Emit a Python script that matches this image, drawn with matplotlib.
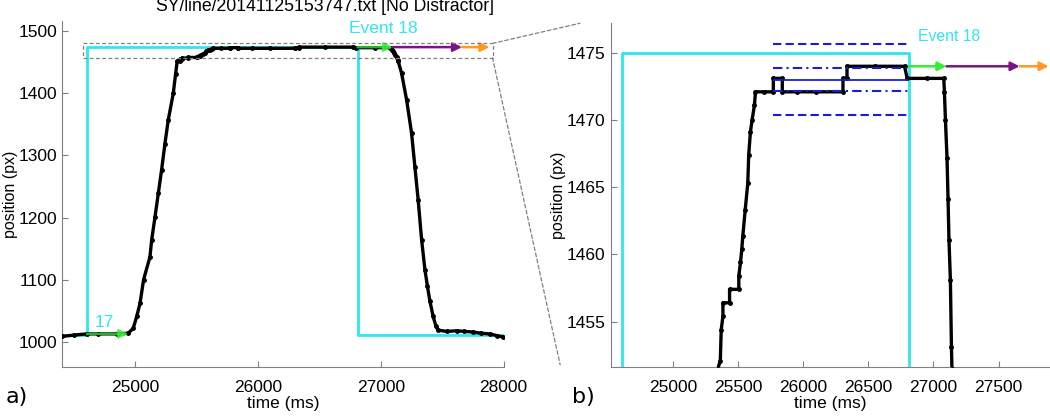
import matplotlib
matplotlib.use("Agg")
import matplotlib.pyplot as plt
from matplotlib.patches import Rectangle, ConnectionPatch

plt.rcParams['font.family'] = ['Liberation Sans', 'DejaVu Sans']

# --- data ---
title = "SY/line/20141125153747.txt [No Distractor]"

# cursor trajectory (time in ms, position in px)
traj_t = [24410, 24500, 24607, 24700, 24850, 24945, 24986, 25014, 25041, 25070,
          25122, 25136, 25163, 25190, 25217, 25244, 25271, 25312, 25330, 25344,
          25363, 25370, 25383, 25383, 25434, 25434, 25505, 25505, 25518, 25528,
          25536, 25554, 25574, 25581, 25594, 25607, 25625, 25633, 25700, 25770,
          25770, 25839, 25839, 25950, 26100, 26305, 26305, 26336, 26336, 26550,
          26778, 26798, 26950, 27079, 27084, 27092, 27104, 27112, 27119, 27130,
          27138, 27142, 27170, 27211, 27251, 27278, 27305, 27333, 27360, 27380,
          27400, 27427, 27450, 27468, 27536, 27617, 27680, 27752, 27820, 27888,
          27950, 27997]
traj_p = [1009, 1011, 1013, 1013, 1013, 1014, 1022, 1041, 1062, 1100,
          1137, 1164, 1201, 1239, 1277, 1319, 1357, 1400, 1430, 1451.5,
          1452.1, 1454.4, 1455.4, 1456.4, 1456.4, 1457.4, 1457.4, 1458.4, 1459.4, 1460.4,
          1461.4, 1463.3, 1465.3, 1467.4, 1469.1, 1470.0, 1471.1, 1472.1, 1472.1, 1472.1,
          1473.1, 1473.1, 1472.1, 1472.1, 1472.1, 1472.1, 1473.1, 1473.1, 1474.0, 1474.0,
          1474.0, 1473.1, 1473.1, 1473.1, 1472.1, 1470.0, 1467.2, 1464.1, 1461.1, 1458.1,
          1453.1, 1451.5, 1432, 1389, 1336, 1282, 1228, 1164, 1116, 1090,
          1066, 1041, 1025, 1019, 1017, 1018, 1017, 1016, 1014, 1013,
          1010, 1008]

# target signal (cyan step)
target_t = [24410, 24610, 24610, 26812, 26812, 28000]
target_p = [1011, 1011, 1475, 1475, 1011, 1011]

# event arrows: (start, tip, level)
arrow17 = [24610, 24945, 1013]
green18 = [26812, 27100, 1474]
purple18 = [27100, 27662, 1474]
orange18 = [27662, 27885, 1474]

# mean / spread lines of the hold phase
hold_span = [25770, 26805]
hold_mean = 1473.0
hold_sd1 = [1472.15, 1473.86]
hold_sd3 = [1470.34, 1475.67]

# zoom box drawn in panel a
zoom_box = [24578, 27910, 1457, 1480]

left_xticks = [25000, 26000, 27000, 28000]
left_yticks = [1000, 1100, 1200, 1300, 1400, 1500]
right_xticks = [25000, 25500, 26000, 26500, 27000, 27500]
right_yticks = [1455, 1460, 1465, 1470, 1475]

CYAN = "#30e6ef"
GREEN = "#33ee33"
PURPLE = "#7a1488"
ORANGE = "#ff9a1f"
BLUE = "#1c1cd8"
GRAY = "#808080"


def style_axes(ax):
    for side in ("top", "right"):
        ax.spines[side].set_visible(False)
    for side in ("left", "bottom"):
        ax.spines[side].set_color(GRAY)
    ax.tick_params(direction="in", length=4, color=GRAY, labelsize=12.5)
    ax.tick_params(axis="x", pad=9)
    ax.tick_params(axis="y", pad=4)
    ax.set_xlabel("time (ms)", fontsize=12.5, labelpad=1)
    ax.set_ylabel("position (px)", fontsize=11.5, labelpad=0)


def arrow(ax, spec, color, alpha=1.0):
    start, tip, level = spec
    ax.annotate("", xy=(tip, level), xytext=(start, level),
                arrowprops=dict(arrowstyle="-|>", color=color, lw=1.8,
                                mutation_scale=13, shrinkA=0, shrinkB=0,
                                alpha=alpha),
                annotation_clip=False, zorder=5)


fig = plt.figure(figsize=(10.5, 4.18), dpi=100)
ax1 = fig.add_axes([0.0595, 0.1213, 0.4201, 0.8292])
ax2 = fig.add_axes([0.5816, 0.1213, 0.4184, 0.8230])

# --- panel a ---
ax1.plot(target_t, target_p, color=CYAN, lw=2, zorder=2)
ax1.plot(traj_t, traj_p, color="black", lw=2.4, marker=".", markersize=5, zorder=3)
arrow(ax1, arrow17, GREEN, alpha=0.75)
arrow(ax1, green18, GREEN, alpha=0.75)
arrow(ax1, purple18, PURPLE)
arrow(ax1, orange18, ORANGE)
ax1.text(24674, 1024, "17", color=CYAN, fontsize=12.5, va="baseline")
ax1.text(26741, 1497, "Event 18", color=CYAN, fontsize=12.5, va="baseline")
ax1.add_patch(Rectangle((zoom_box[0], zoom_box[2]), zoom_box[1] - zoom_box[0],
                        zoom_box[3] - zoom_box[2], fill=False, ec=GRAY,
                        lw=0.9, ls=(0, (3, 2)), zorder=6))
ax1.set_xlim(24410, 28000)
ax1.set_ylim(959.3, 1516.5)
ax1.set_xticks(left_xticks)
ax1.set_yticks(left_yticks)
style_axes(ax1)

# --- panel b ---
ax2.plot(target_t, target_p, color=CYAN, lw=2, zorder=2)
ax2.plot(traj_t, traj_p, color="black", lw=2.4, marker=".", markersize=5, zorder=3)
ax2.hlines(hold_mean, *hold_span, color=BLUE, lw=1.3, zorder=4)
ax2.hlines(hold_sd1, *hold_span, color=BLUE, lw=1.5, linestyles=[(0, (4.5, 2, 1, 2))], zorder=4)
ax2.hlines(hold_sd3, *hold_span, color=BLUE, lw=1.5, linestyles=[(0, (4, 2))], zorder=4)
arrow(ax2, green18, GREEN)
arrow(ax2, purple18, PURPLE)
arrow(ax2, orange18, ORANGE)
ax2.text(26880, 1475.9, "Event 18", color=CYAN, fontsize=11.3, va="baseline")
ax2.set_xlim(24521, 27895)
ax2.set_ylim(1451.6, 1477.2)
ax2.set_xticks(right_xticks)
ax2.set_yticks(right_yticks)
style_axes(ax2)

# zoom connector lines
for (py, fx, fy) in [(zoom_box[3], -0.07, 1.0), (zoom_box[2], -0.115, 0.007)]:
    con = ConnectionPatch(xyA=(zoom_box[1], py), coordsA=ax1.transData,
                          xyB=(fx, fy), coordsB=ax2.transAxes,
                          color=GRAY, lw=0.9, ls=(0, (3, 2)))
    fig.add_artist(con)

fig.text(0.3095, 1 - 11 / 418, title, ha="center", va="baseline", fontsize=12.7)
fig.text(0.005, 1 - 403 / 418, "a)", fontsize=16, family="DejaVu Sans", va="baseline")
fig.text(0.545, 1 - 403 / 418, "b)", fontsize=16, family="DejaVu Sans", va="baseline")

fig.savefig("out.png", dpi=100)
